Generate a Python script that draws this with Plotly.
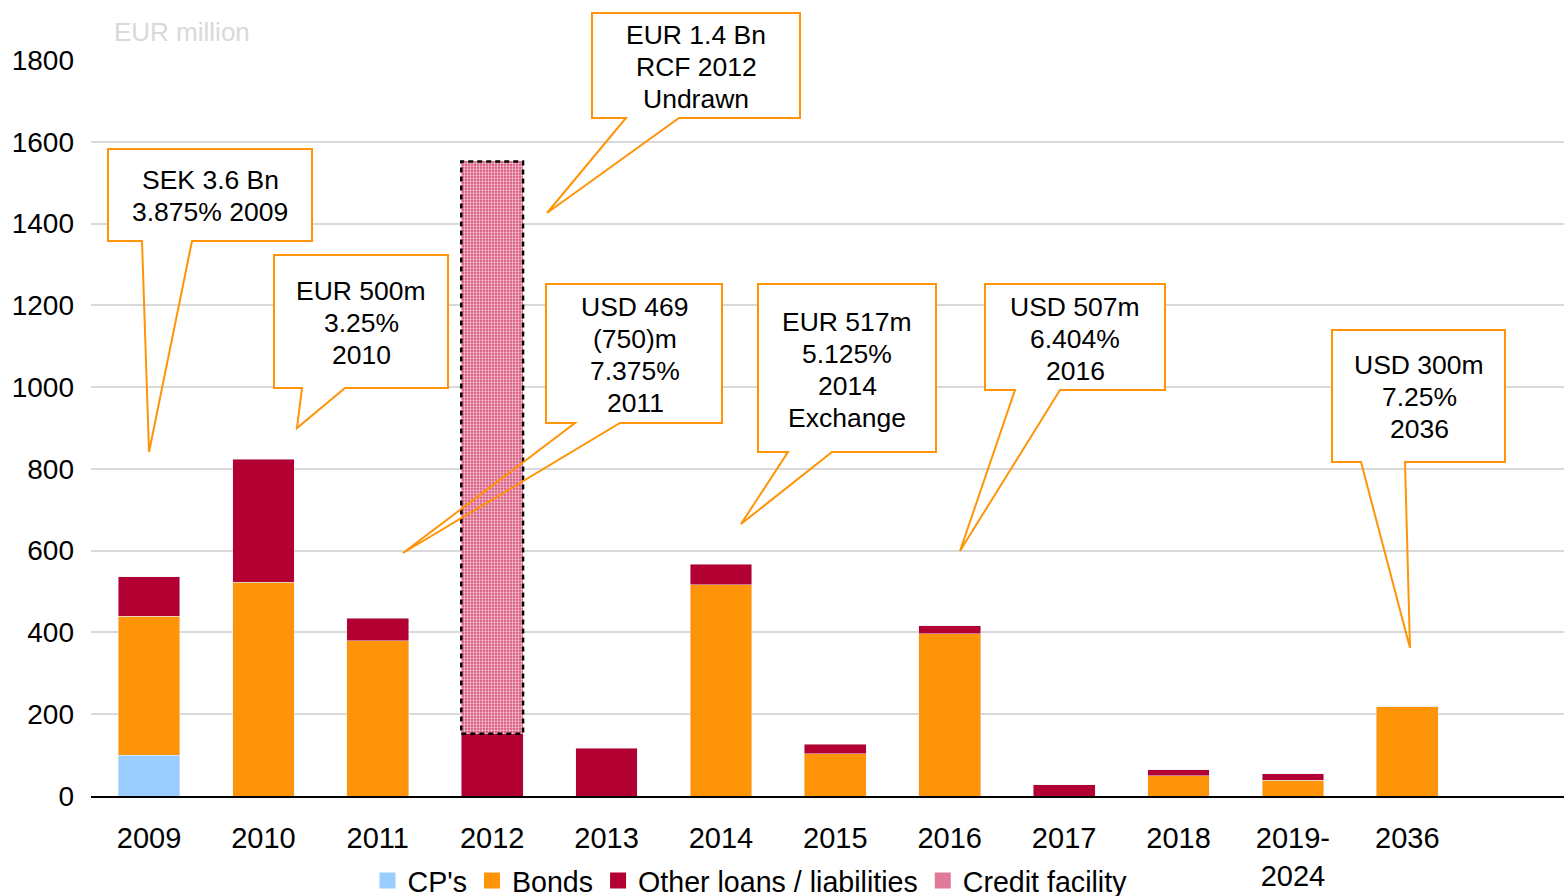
import plotly.graph_objects as go

# ---------------- data ----------------
categories = ["2009", "2010", "2011", "2012", "2013", "2014", "2015", "2016",
              "2017", "2018", "2019-<br>2024", "2036"]
cps = [100, 0, 0, 0, 0, 0, 0, 0, 0, 0, 0, 0]
bonds = [340, 523, 380, 0, 0, 517, 103, 397, 0, 49, 39, 218]
other_loans = [96, 301, 55, 152, 117, 50, 24, 19, 27, 15, 15, 0]
credit_facility = [0, 0, 0, 1400, 0, 0, 0, 0, 0, 0, 0, 0]
y_ticks = [0, 200, 400, 600, 800, 1000, 1200, 1400, 1600, 1800]
series_names = ["CP's", "Bonds", "Other loans / liabilities", "Credit facility"]

callout_lines = [
    ["SEK 3.6 Bn", "3.875% 2009"],
    ["EUR 500m", "3.25%", "2010"],
    ["EUR 1.4 Bn", "RCF 2012", "Undrawn"],
    ["USD 469", "(750)m", "7.375%", "2011"],
    ["EUR 517m", "5.125%", "2014", "Exchange"],
    ["USD 507m", "6.404%", "2016"],
    ["USD 300m", "7.25%", "2036"],
]

# ---------------- layout helpers ----------------
W, H = 1564, 896
L, R, T, B = 91, 1564, 60, 796
BAR_W = 0.54
X_RANGE = [-0.507, 12.37]
LINE_GAP = 32

def px(x):
    return (x - L) / (R - L)

def py(y):
    return (B - y) / (B - T)

# callout geometry in page pixels: box (x0, y0, x1, y1), wedge base (xa, xb), tip,
# text centre x and first text line y
callout_geom = [
    dict(box=(108, 149, 312, 241), base=(142, 192), tip=(149, 452), cx=210, ly=180),
    dict(box=(274, 255, 448, 388), base=(302, 345), tip=(297, 428), cx=361, ly=291),
    dict(box=(592, 13, 800, 118), base=(626, 679), tip=(547, 213), cx=696, ly=35),
    dict(box=(546, 284, 722, 423), base=(575, 620), tip=(403, 553), cx=635, ly=307),
    dict(box=(758, 284, 936, 452), base=(788, 832), tip=(741, 524), cx=847, ly=322),
    dict(box=(985, 284, 1165, 390), base=(1015, 1060), tip=(960, 551), cx=1075, ly=307),
    dict(box=(1332, 330, 1505, 462), base=(1361, 1405), tip=(1410, 648), cx=1419, ly=365),
]

C_CP = "#99CCFF"
C_BOND = "#FF9408"
C_OTHER = "#B20032"
C_CREDIT = "#D9547C"
C_CREDIT_LEG = "#E07A98"
ORANGE = "#FF9408"
FONT = "Liberation Sans, Arial, sans-serif"

x_idx = list(range(len(categories)))

fig = go.Figure()
fig.add_trace(go.Bar(x=x_idx, y=cps, name=series_names[0], marker_color=C_CP,
                     width=BAR_W, showlegend=False))
fig.add_trace(go.Bar(x=x_idx, y=bonds, name=series_names[1], marker_color=C_BOND,
                     width=BAR_W, showlegend=False))
fig.add_trace(go.Bar(x=x_idx, y=other_loans, name=series_names[2],
                     marker_color=C_OTHER, width=BAR_W, showlegend=False))
fig.add_trace(go.Bar(x=x_idx, y=credit_facility, name=series_names[3], width=BAR_W,
                     showlegend=False,
                     marker=dict(color=C_CREDIT,
                                 pattern=dict(shape=".", size=3, solidity=0.45,
                                              fgcolor="#F4C8D4", bgcolor=C_CREDIT,
                                              fillmode="replace"),
                                 line=dict(width=0))))

# legend entries with larger square swatches
for name, col in zip(series_names, [C_CP, C_BOND, C_OTHER, C_CREDIT_LEG]):
    fig.add_trace(go.Scatter(x=[None], y=[None], mode="markers", name=name,
                             marker=dict(symbol="square", size=18, color=col,
                                         line=dict(width=0))))

shapes = []
# dashed outline of credit facility bars (derived from data)
for i, v in enumerate(credit_facility):
    if v > 0:
        base = cps[i] + bonds[i] + other_loans[i]
        shapes.append(dict(type="rect", xref="x", yref="y",
                           x0=i - BAR_W / 2, x1=i + BAR_W / 2, y0=base, y1=base + v,
                           line=dict(color="black", width=2.5, dash="5px,4px"),
                           fillcolor="rgba(0,0,0,0)", layer="above"))

annotations = []
for g, lines in zip(callout_geom, callout_lines):
    x0, y0, x1, y1 = g["box"]
    xa, xb = g["base"]
    tx, ty = g["tip"]
    shapes.append(dict(type="rect", xref="paper", yref="paper",
                       x0=px(x0), x1=px(x1), y0=py(y1), y1=py(y0),
                       fillcolor="white", line=dict(width=0), layer="above"))
    pts = [(x0, y0), (x1, y0), (x1, y1), (xb, y1), (tx, ty), (xa, y1), (x0, y1)]
    path = "M " + " L ".join(f"{px(a):.5f},{py(b):.5f}" for a, b in pts) + " Z"
    shapes.append(dict(type="path", xref="paper", yref="paper", path=path,
                       line=dict(color=ORANGE, width=2), fillcolor="rgba(0,0,0,0)",
                       layer="above"))
    for k, line in enumerate(lines):
        annotations.append(dict(xref="paper", yref="paper", x=px(g["cx"]),
                                y=py(g["ly"] + k * LINE_GAP),
                                text=line, showarrow=False, xanchor="center",
                                yanchor="middle",
                                font=dict(size=26.5, color="black", family=FONT)))

annotations.append(dict(xref="paper", yref="paper", x=px(112), y=py(32),
                        text="EUR million", showarrow=False, xanchor="left",
                        yanchor="middle", font=dict(size=26, color="#D9D9D9", family=FONT)))

fig.update_layout(
    width=W, height=H,
    margin=dict(l=L, r=W - R, t=T, b=H - B, pad=0, autoexpand=False),
    barmode="stack",
    plot_bgcolor="white", paper_bgcolor="white",
    font=dict(family=FONT, size=28, color="black"),
    shapes=shapes, annotations=annotations,
    legend=dict(orientation="h", xref="paper", x=px(750), xanchor="center",
                yref="container", y=(H - 881) / H, yanchor="middle",
                font=dict(size=28.6), traceorder="normal",
                itemwidth=30, tracegroupgap=0, bgcolor="rgba(0,0,0,0)"),
)
fig.update_xaxes(range=X_RANGE, tickvals=x_idx, ticktext=categories,
                 showgrid=False, showline=True, linecolor="black", linewidth=2,
                 ticks="", ticklabelstandoff=15, zeroline=False, automargin=False,
                 tickfont=dict(size=29))
fig.update_yaxes(range=[0, 1800], tickvals=y_ticks, showgrid=True,
                 gridcolor="#D9D9D9", gridwidth=2, zeroline=False, automargin=False,
                 showline=False, ticks="", ticklabelstandoff=16,
                 tickfont=dict(size=28))

fig.write_html("out.html", config={"displayModeBar": False},
               post_script="document.body.style.margin='0';")
